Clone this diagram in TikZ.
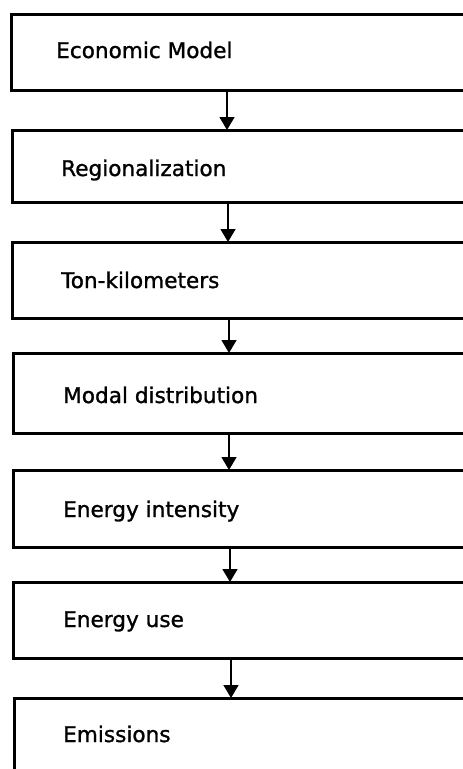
\documentclass[tikz,border=0pt]{standalone}
\usepackage{fontspec}
\newfontfamily\labfont{DejaVu Sans}[BoldFont={DejaVu Sans}, BoldFeatures={FakeBold=1.2}]
\usetikzlibrary{arrows.meta}
\tikzset{
  box/.style={draw=black, line width=2.8pt, anchor=north west, minimum width=520pt, inner sep=0pt},
  lab/.style={anchor=base west, inner sep=0pt, font=\labfont\bfseries\fontsize{21.6pt}{24pt}\selectfont},
  arr/.style={draw=black, line width=1.5pt, -{Triangle[width=15pt,length=13pt]}, shorten >=-1pt}
}
\begin{document}
\begin{tikzpicture}[x=1pt,y=-1pt]
\useasboundingbox (0,0) rectangle (463,769);
\clip (0,0) rectangle (463,769);
\fill[white] (0,0) rectangle (463,769);
% boxes
\node[box, minimum height=76pt] (b1) at (10,13) {};
\node[box, minimum height=72pt] (b2) at (11,129) {};
\node[box, minimum height=76pt] (b3) at (11,241) {};
\node[box, minimum height=80pt] (b4) at (12,352) {};
\node[box, minimum height=77pt] (b5) at (12,469) {};
\node[box, minimum height=76pt] (b6) at (12,581) {};
\node[box, minimum height=140pt] (b7) at (13,697) {};
% labels
\node[lab] (t1) at (56,58) {Economic Model};
\node[lab] (t2) at (61,176) {Regionalization};
\node[lab] (t3) at (61,288) {Ton-kilometers};
\node[lab] (t4) at (63,403) {Modal distribution};
\node[lab] (t5) at (63,517) {Energy intensity};
\node[lab] (t6) at (63,627) {Energy use};
\node[lab] (t7) at (63,742) {Emissions};
% arrow columns
\coordinate (x1) at (227,0);
\coordinate (x2) at (228,0);
\coordinate (x3) at (229,0);
\coordinate (x4) at (229,0);
\coordinate (x5) at (230,0);
\coordinate (x6) at (231,0);
\draw[arr] (b1.south -| x1) -- (b2.north -| x1);
\draw[arr] (b2.south -| x2) -- (b3.north -| x2);
\draw[arr] (b3.south -| x3) -- (b4.north -| x3);
\draw[arr] (b4.south -| x4) -- (b5.north -| x4);
\draw[arr] (b5.south -| x5) -- (b6.north -| x5);
\draw[arr] (b6.south -| x6) -- (b7.north -| x6);
\end{tikzpicture}
\end{document}
